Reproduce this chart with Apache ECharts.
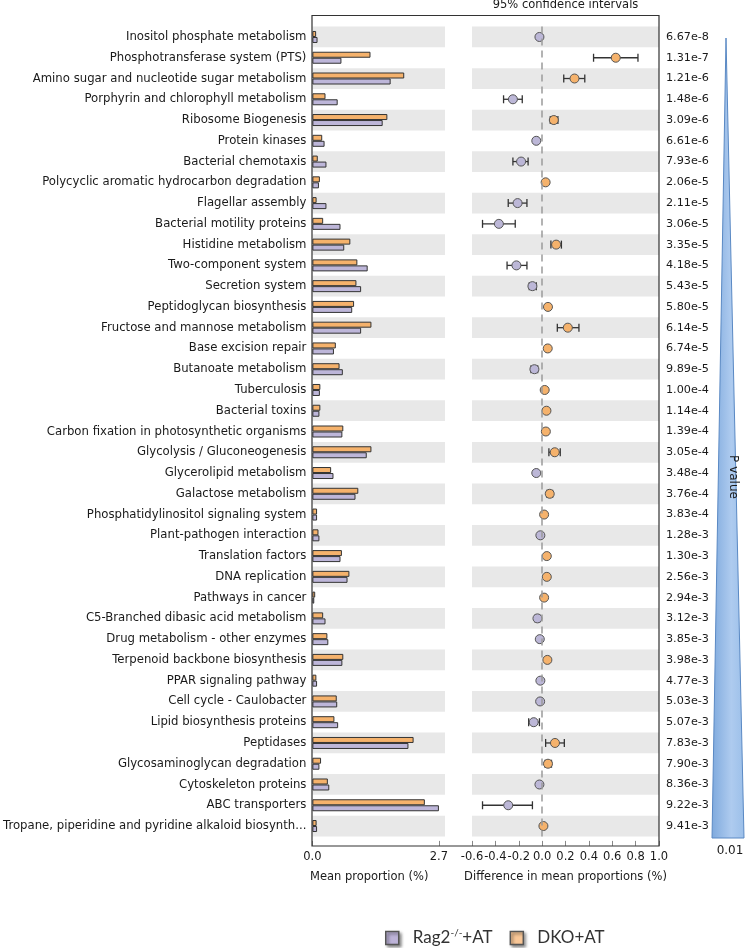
<!DOCTYPE html>
<html>
<head>
<meta charset="utf-8">
<script src="https://cdn.jsdelivr.net/npm/echarts@6/dist/echarts.min.js"></script>
<style>html,body{margin:0;padding:0;background:#fff;}#chart{width:747px;height:948px;}</style>
</head>
<body>
<div id="chart"></div>
<script>
const categories = [
  'Inositol phosphate metabolism',
  'Phosphotransferase system (PTS)',
  'Amino sugar and nucleotide sugar metabolism',
  'Porphyrin and chlorophyll metabolism',
  'Ribosome Biogenesis',
  'Protein kinases',
  'Bacterial chemotaxis',
  'Polycyclic aromatic hydrocarbon degradation',
  'Flagellar assembly',
  'Bacterial motility proteins',
  'Histidine metabolism',
  'Two-component system',
  'Secretion system',
  'Peptidoglycan biosynthesis',
  'Fructose and mannose metabolism',
  'Base excision repair',
  'Butanoate metabolism',
  'Tuberculosis',
  'Bacterial toxins',
  'Carbon fixation in photosynthetic organisms',
  'Glycolysis / Gluconeogenesis',
  'Glycerolipid metabolism',
  'Galactose metabolism',
  'Phosphatidylinositol signaling system',
  'Plant-pathogen interaction',
  'Translation factors',
  'DNA replication',
  'Pathways in cancer',
  'C5-Branched dibasic acid metabolism',
  'Drug metabolism - other enzymes',
  'Terpenoid backbone biosynthesis',
  'PPAR signaling pathway',
  'Cell cycle - Caulobacter',
  'Lipid biosynthesis proteins',
  'Peptidases',
  'Glycosaminoglycan degradation',
  'Cytoskeleton proteins',
  'ABC transporters',
  'Tropane, piperidine and pyridine alkaloid biosynth...'
];
// Mean proportion (%)
const dkoMean = [0.08,1.24,1.96,0.28,1.60,0.21,0.115,0.16,0.09,0.23,0.81,0.96,0.94,0.89,1.26,0.50,0.58,0.17,0.17,0.66,1.26,0.40,0.98,0.10,0.13,0.63,0.79,0.06,0.23,0.32,0.66,0.085,0.52,0.47,2.16,0.185,0.33,2.40,0.09];
const ragMean = [0.11,0.62,1.67,0.54,1.50,0.26,0.30,0.14,0.30,0.60,0.68,1.18,1.04,0.85,1.04,0.46,0.65,0.16,0.15,0.64,1.16,0.45,0.92,0.10,0.15,0.60,0.75,0.04,0.28,0.34,0.64,0.10,0.53,0.55,2.05,0.15,0.36,2.70,0.10];
// Difference in mean proportions (%) and 95% CI
const diff = [-0.023,0.63,0.277,-0.25,0.10,-0.05,-0.18,0.03,-0.21,-0.37,0.12,-0.22,-0.083,0.05,0.22,0.048,-0.066,0.022,0.037,0.032,0.108,-0.05,0.065,0.017,-0.015,0.04,0.04,0.017,-0.04,-0.02,0.045,-0.015,-0.017,-0.072,0.11,0.05,-0.023,-0.29,0.011];
const ciLow = [-0.03,0.44,0.185,-0.33,0.07,-0.058,-0.25,0.022,-0.29,-0.51,0.075,-0.30,-0.11,0.04,0.13,0.038,-0.095,0.014,0.028,0.024,0.058,-0.06,0.04,0.01,-0.022,0.03,0.03,0.01,-0.06,-0.028,0.03,-0.022,-0.024,-0.115,0.03,0.025,-0.03,-0.51,0.004];
const ciHigh = [-0.016,0.82,0.365,-0.17,0.135,-0.042,-0.12,0.038,-0.13,-0.23,0.165,-0.13,-0.05,0.06,0.315,0.058,-0.038,0.03,0.046,0.04,0.155,-0.04,0.09,0.024,-0.008,0.05,0.05,0.024,-0.02,-0.012,0.06,-0.008,-0.01,-0.023,0.19,0.08,-0.016,-0.083,0.018];
const pValues = ['6.67e-8','1.31e-7','1.21e-6','1.48e-6','3.09e-6','6.61e-6','7.93e-6','2.06e-5','2.11e-5','3.06e-5','3.35e-5','4.18e-5','5.43e-5','5.80e-5','6.14e-5','6.74e-5','9.89e-5','1.00e-4','1.14e-4','1.39e-4','3.05e-4','3.48e-4','3.76e-4','3.83e-4','1.28e-3','1.30e-3','2.56e-3','2.94e-3','3.12e-3','3.85e-3','3.98e-3','4.77e-3','5.03e-3','5.07e-3','7.83e-3','7.90e-3','8.36e-3','9.22e-3','9.41e-3'];
const meanTicks = [0, 2.7];

const ORANGE = '#f5b26c';
const PURPLE = '#bdb6d9';
const FONT = 'DejaVu Sans';
const TXT = '#1a1a1a';

const chart = echarts.init(document.getElementById('chart'));

const ragPts = [], dkoPts = [];
diff.forEach((d, i) => { (d < 0 ? ragPts : dkoPts).push([d, i]); });
const ciData = diff.map((d, i) => [i, ciLow[i], ciHigh[i]]);

const fmtDiff = v => {
  if (Math.abs(v) < 1e-9) return '0.0';
  return (v < 0 ? '-' : '') + Math.abs(v).toFixed(1);
};

const band = {show: true, areaStyle: {color: ['#e8e8e8', 'rgba(255,255,255,0)']}};

chart.setOption({
  animation: false,
  backgroundColor: '#fff',
  textStyle: {fontFamily: FONT},
  grid: [
    {left: 312, top: 26.6, width: 133, height: 809.8},
    {left: 472, top: 26.6, width: 187, height: 809.8},
    {left: 312, top: 15.5, width: 347, height: 830.5, show: true, borderColor: '#333', borderWidth: 1.2, backgroundColor: 'transparent', z: 5}
  ],
  legend: {
    left: 380, top: 923,
    icon: 'rect', itemWidth: 13, itemHeight: 13, itemGap: 17,
    itemStyle: {borderColor: '#555', borderWidth: 1.5, shadowBlur: 3, shadowColor: 'rgba(0,0,0,0.45)', shadowOffsetX: 2, shadowOffsetY: 2},
    data: [
      {name: 'Rag2', itemStyle: {color: '#bdb3d8'}},
      {name: 'DKO', itemStyle: {color: '#f9c797'}}
    ],
    formatter: n => n === 'Rag2' ? '{a|Rag2}{s|-/-}{a|+AT}' : '{a|DKO+AT}',
    textStyle: {
      padding: [0, 0, 0, 9],
      rich: {
        a: {fontFamily: 'Lato', fontSize: 17, color: '#333', lineHeight: 20},
        s: {fontFamily: 'Lato', fontSize: 10, color: '#333', lineHeight: 12, verticalAlign: 'top'}
      }
    }
  },
  graphic: [
    {type: 'text', x: 565.5, y: 5.5, style: {text: '95% confidence intervals', fontFamily: FONT, fontSize: 11.5, fill: TXT, align: 'center', verticalAlign: 'middle'}},
    {type: 'polygon', shape: {points: [[726, 38], [744, 838], [712, 838]]},
      style: {fill: {type: 'linear', x: 0, y: 0, x2: 1, y2: 0, colorStops: [{offset: 0, color: '#7ea9dd'}, {offset: 0.6, color: '#aecbef'}, {offset: 1, color: '#9bbfe9'}]}, stroke: '#5a89c4', lineWidth: 1}},
    {type: 'text', x: 733, y: 477, rotation: -Math.PI / 2, style: {text: 'P value', fontFamily: FONT, fontSize: 12, fill: TXT, align: 'center', verticalAlign: 'middle'}},
    {type: 'text', x: 730, y: 851, style: {text: '0.01', fontFamily: FONT, fontSize: 12, fill: TXT, align: 'center', verticalAlign: 'middle'}}
  ],
  xAxis: [
    {gridIndex: 0, type: 'value', min: 0, max: 2.83, offset: 9.5,
      axisLine: {show: false}, splitLine: {show: false},
      axisTick: {show: true, inside: true, length: 5, lineStyle: {color: '#888'}, customValues: meanTicks},
      axisLabel: {customValues: meanTicks, formatter: v => v.toFixed(1), fontFamily: FONT, fontSize: 11.5, color: TXT, margin: 5},
      name: 'Mean proportion (%)', nameLocation: 'middle', nameGap: 25,
      nameTextStyle: {fontFamily: FONT, fontSize: 11.5, color: TXT, padding: [0, 19, 0, 0]}},
    {gridIndex: 1, type: 'value', min: -0.6, max: 1.0, interval: 0.2, offset: 9.5,
      axisLine: {show: false}, splitLine: {show: false},
      axisTick: {show: true, inside: true, length: 5, lineStyle: {color: '#888'}},
      axisLabel: {formatter: fmtDiff, fontFamily: FONT, fontSize: 11.5, color: TXT, margin: 5, hideOverlap: false, showMinLabel: true, showMaxLabel: true},
      name: 'Difference in mean proportions (%)', nameLocation: 'middle', nameGap: 25,
      nameTextStyle: {fontFamily: FONT, fontSize: 11.5, color: TXT}},
    {gridIndex: 2, type: 'value', show: false}
  ],
  yAxis: [
    {gridIndex: 0, type: 'category', data: categories, inverse: true,
      axisLine: {show: false}, axisTick: {show: false}, splitLine: {show: false},
      axisLabel: {fontFamily: FONT, fontSize: 11.7, color: TXT, margin: 6, interval: 0},
      splitArea: band},
    {gridIndex: 1, type: 'category', data: categories, inverse: true,
      axisLine: {show: false}, axisTick: {show: false}, splitLine: {show: false},
      axisLabel: {show: false}, splitArea: band},
    {gridIndex: 1, type: 'category', data: pValues, inverse: true, position: 'right',
      axisLine: {show: false}, axisTick: {show: false}, splitLine: {show: false},
      axisLabel: {fontFamily: FONT, fontSize: 11.2, color: TXT, margin: 7, interval: 0}},
    {gridIndex: 2, type: 'value', show: false}
  ],
  series: [
    {name: 'DKO', type: 'bar', xAxisIndex: 0, yAxisIndex: 0, data: dkoMean, barWidth: 6, barGap: '0%',
      itemStyle: {color: ORANGE, borderColor: '#333', borderWidth: 1}},
    {name: 'Rag2', type: 'bar', xAxisIndex: 0, yAxisIndex: 0, data: ragMean, barWidth: 6, barGap: '0%',
      itemStyle: {color: PURPLE, borderColor: '#333', borderWidth: 1}},
    {name: 'CI', type: 'custom', xAxisIndex: 1, yAxisIndex: 1, data: ciData, z: 2,
      encode: {x: [1, 2], y: 0},
      renderItem: (params, api) => {
        const y = api.value(0);
        const a = api.coord([api.value(1), y]);
        const b = api.coord([api.value(2), y]);
        const h = 4;
        const st = {stroke: '#333', lineWidth: 1.3};
        return {type: 'group', children: [
          {type: 'line', shape: {x1: a[0], y1: a[1], x2: b[0], y2: b[1]}, style: st},
          {type: 'line', shape: {x1: a[0], y1: a[1] - h, x2: a[0], y2: a[1] + h}, style: st},
          {type: 'line', shape: {x1: b[0], y1: b[1] - h, x2: b[0], y2: b[1] + h}, style: st}
        ]};
      },
      markLine: {silent: true, symbol: ['none', 'none'], label: {show: false},
        lineStyle: {type: [7, 5], color: '#9a9a9a', width: 1.5}, data: [{xAxis: 0}]}},
    {name: 'Rag2', type: 'scatter', xAxisIndex: 1, yAxisIndex: 1, data: ragPts, symbolSize: 9, z: 3,
      itemStyle: {color: '#bcb7d7', borderColor: '#555', borderWidth: 1, opacity: 1}},
    {name: 'DKO', type: 'scatter', xAxisIndex: 1, yAxisIndex: 1, data: dkoPts, symbolSize: 9, z: 3,
      itemStyle: {color: ORANGE, borderColor: '#555', borderWidth: 1, opacity: 1}}
  ]
});
</script>
</body>
</html>
